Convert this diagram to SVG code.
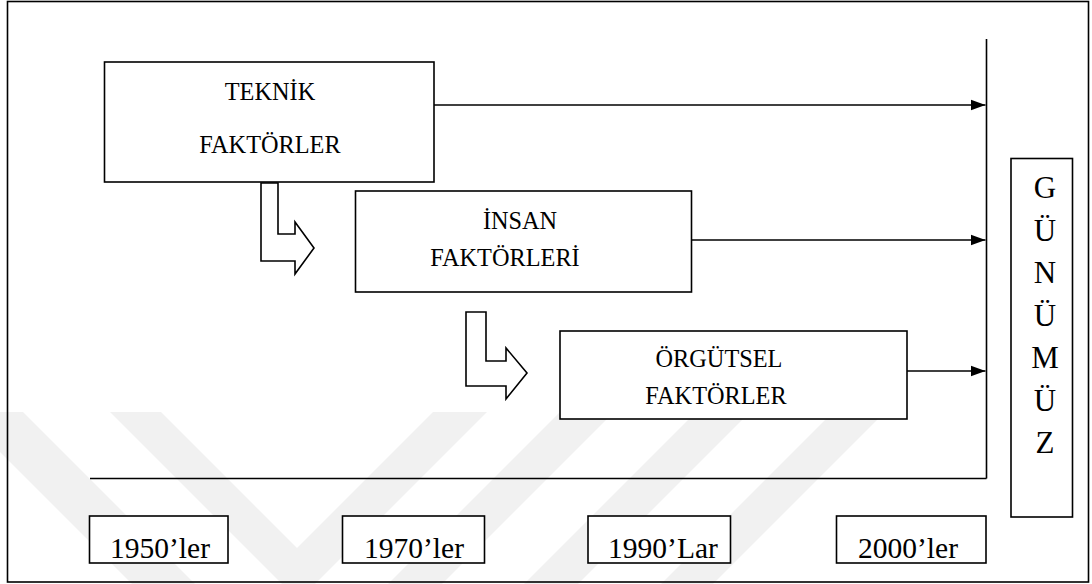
<svg xmlns="http://www.w3.org/2000/svg" width="1092" height="584" viewBox="0 0 1092 584">
<defs>
<marker id="ah" markerUnits="userSpaceOnUse" markerWidth="16" markerHeight="12" refX="15" refY="6" orient="auto">
<path d="M0,0.5 L15,6 L0,11.5 Z" fill="#000"/>
</marker>
<style>
.box{fill:#fff;stroke:#000;stroke-width:1.6}
.ln{fill:none;stroke:#000;stroke-width:1.6}
.wm{fill:#f1f1f1;stroke:none}
.t{font-family:"Liberation Serif","Times New Roman",serif;font-size:24.3px;fill:#000;text-anchor:middle}
.y{font-family:"Liberation Serif","Times New Roman",serif;font-size:29.5px;fill:#000;text-anchor:middle}
.g{font-family:"Liberation Serif","Times New Roman",serif;font-size:31px;fill:#000;text-anchor:middle}
.blk{fill:#fff;stroke:#000;stroke-width:1.6;stroke-linejoin:miter}
</style>
</defs>
<rect x="0" y="0" width="1092" height="584" fill="#fff"/>
<g id="watermark">
<polygon class="wm" points="-40,412 23,412 195,584 132,584"/>
<polygon class="wm" points="110,412 161,412 297,548 433,412 487,412 315,584 282,584"/>
<polygon class="wm" points="560,412 614,412 442,584 388,584"/>
<polygon class="wm" points="696,412 750,412 578,584 524,584"/>
<polygon class="wm" points="833,412 885,412 713,584 661,584"/>
</g>
<rect id="frame" x="7.5" y="1.5" width="1081" height="580.5" fill="none" stroke="#000" stroke-width="1.6"/>
<g id="connectors">
<line class="ln" x1="986.5" y1="39" x2="986.5" y2="478.5"/>
<line class="ln" x1="90" y1="478.5" x2="986.5" y2="478.5"/>
<line class="ln" x1="434" y1="105" x2="985.5" y2="105" marker-end="url(#ah)"/>
<line class="ln" x1="691.5" y1="240" x2="985.5" y2="240" marker-end="url(#ah)"/>
<line class="ln" x1="907" y1="371" x2="985.5" y2="371" marker-end="url(#ah)"/>
<polygon class="blk" points="261,183 278,183 278,234 295,234 295,222 314,248 295,274 295,261 261,261"/>
<polygon class="blk" points="466,312 486,312 486,361 506,361 506,348 527,373 506,399 506,386 466,386"/>
</g>
<g id="teknik">
<rect class="box" x="104.5" y="62" width="329.5" height="120"/>
<text class="t" x="270" y="100">TEKNİK</text>
<text class="t" x="270" y="153">FAKTÖRLER</text>
</g>
<g id="insan">
<rect class="box" x="355.5" y="191" width="336" height="101"/>
<text class="t" x="520" y="229">İNSAN</text>
<text class="t" x="505" y="266">FAKTÖRLERİ</text>
</g>
<g id="orgutsel">
<rect class="box" x="560" y="331" width="347" height="88"/>
<text class="t" x="719" y="367">ÖRGÜTSEL</text>
<text class="t" x="716" y="404">FAKTÖRLER</text>
</g>
<g id="gunumuz">
<rect class="box" x="1011" y="158.5" width="61.5" height="358.5"/>
<text class="g" x="1045" y="198">G</text>
<text class="g" x="1045" y="241">Ü</text>
<text class="g" x="1045" y="283">N</text>
<text class="g" x="1045" y="326">Ü</text>
<text class="g" x="1045" y="368">M</text>
<text class="g" x="1045" y="411">Ü</text>
<text class="g" x="1045" y="453">Z</text>
</g>
<g id="y1950">
<rect class="box" x="89.5" y="516" width="138.5" height="47"/>
<text class="y" x="160" y="558">1950’ler</text>
</g>
<g id="y1970">
<rect class="box" x="342.5" y="516" width="142" height="47"/>
<text class="y" x="414" y="558">1970’ler</text>
</g>
<g id="y1990">
<rect class="box" x="588" y="516" width="142.5" height="47"/>
<text class="y" x="663" y="558">1990’Lar</text>
</g>
<g id="y2000">
<rect class="box" x="836.5" y="516" width="149.5" height="47"/>
<text class="y" x="908" y="558">2000’ler</text>
</g>
</svg>
